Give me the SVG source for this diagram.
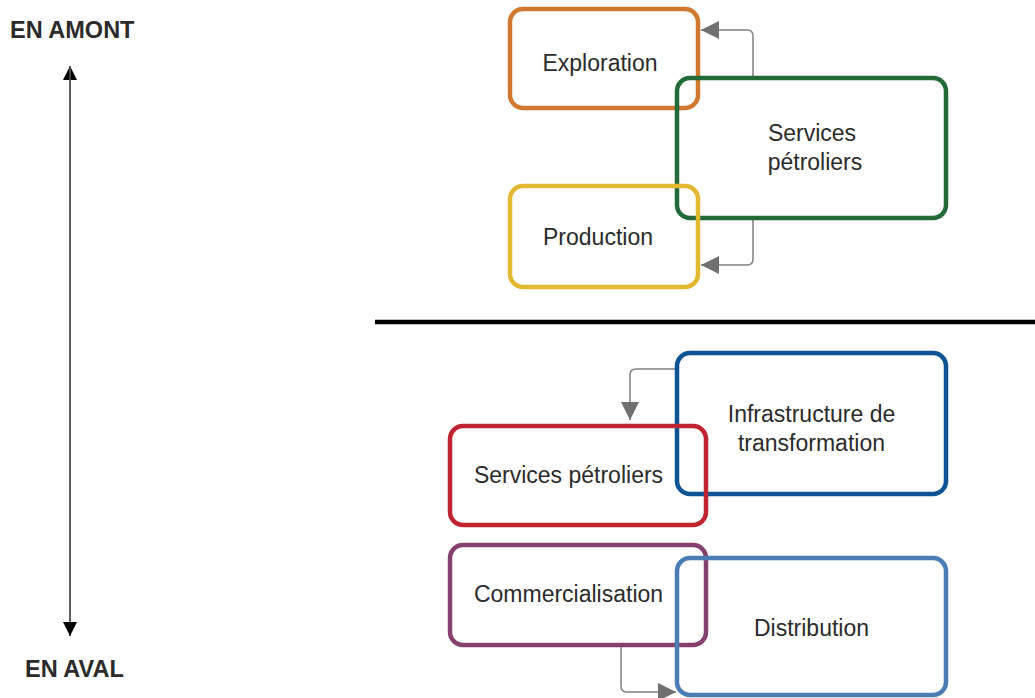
<svg xmlns="http://www.w3.org/2000/svg" width="1035" height="698" viewBox="0 0 1035 698">
<defs>
<style>
.box{fill:none;stroke-width:4.5}
.lbl{font-family:"Liberation Sans",Arial,sans-serif;font-size:23px;fill:#2b2b2b;text-anchor:middle}
.axis{font-family:"Liberation Sans",Arial,sans-serif;font-size:23.5px;font-weight:bold;fill:#2b2b2b}
.conn{fill:none;stroke:#808080;stroke-width:1.5}
</style>
<marker id="ga" viewBox="0 0 10 10" refX="10" refY="5" markerWidth="18" markerHeight="18" markerUnits="userSpaceOnUse" orient="auto"><path d="M0,0 L10,5 L0,10 Z" fill="#707070"/></marker>
<marker id="ba" viewBox="0 0 10 10" refX="10" refY="5" markerWidth="14" markerHeight="14" markerUnits="userSpaceOnUse" orient="auto"><path d="M0,0 L10,5 L0,10 Z" fill="#000"/></marker>
</defs>
<rect width="1035" height="698" fill="#fff"/>
<g id="connectors">
<path class="conn" d="M753,78 V36 Q753,30 747,30 H701" marker-end="url(#ga)"/>
<path class="conn" d="M753,218 V259 Q753,265 747,265 H701" marker-end="url(#ga)"/>
<path class="conn" d="M677,369 H636 Q630,369 630,375 V420" marker-end="url(#ga)"/>
<path class="conn" d="M621,645 V686 Q621,692 627,692 H676" marker-end="url(#ga)"/>
<line x1="70" y1="636" x2="70" y2="66" stroke="#555" stroke-width="1.5" marker-end="url(#ba)"/>
<line x1="70" y1="66" x2="70" y2="636" stroke="#555" stroke-width="1.5" marker-end="url(#ba)"/>
<line x1="375" y1="322" x2="1035" y2="322" stroke="#000" stroke-width="4.5"/>
</g>
<g id="axis-labels">
<text class="axis" x="10" y="38">EN AMONT</text>
<text class="axis" x="25" y="677">EN AVAL</text>
</g>
<g id="exploration"><rect class="box" x="510" y="9" width="188" height="99" rx="13" stroke="#D07830"/><text class="lbl" x="600" y="71">Exploration</text></g>
<g id="services-amont"><rect class="box" x="677" y="78" width="269" height="140" rx="13" stroke="#236A39"/><text class="lbl" x="812" y="141">Services</text><text class="lbl" x="815" y="170">pétroliers</text></g>
<g id="production"><rect class="box" x="510" y="186" width="188" height="101" rx="13" stroke="#E3B931"/><text class="lbl" x="598" y="245">Production</text></g>
<g id="infrastructure"><rect class="box" x="677" y="353" width="269" height="141" rx="13" stroke="#0C5494"/><text class="lbl" x="811.5" y="421.5">Infrastructure de</text><text class="lbl" x="811.5" y="450.5">transformation</text></g>
<g id="services-aval"><rect class="box" x="450" y="426" width="256" height="99" rx="13" stroke="#BF2430"/><text class="lbl" x="568.5" y="483">Services pétroliers</text></g>
<g id="commercialisation"><rect class="box" x="450" y="545" width="256" height="100" rx="13" stroke="#86406D"/><text class="lbl" x="568.5" y="602">Commercialisation</text></g>
<g id="distribution"><rect class="box" x="677" y="558" width="269" height="137" rx="13" stroke="#4A7DB3"/><text class="lbl" x="811.5" y="635.5">Distribution</text></g>
</svg>
